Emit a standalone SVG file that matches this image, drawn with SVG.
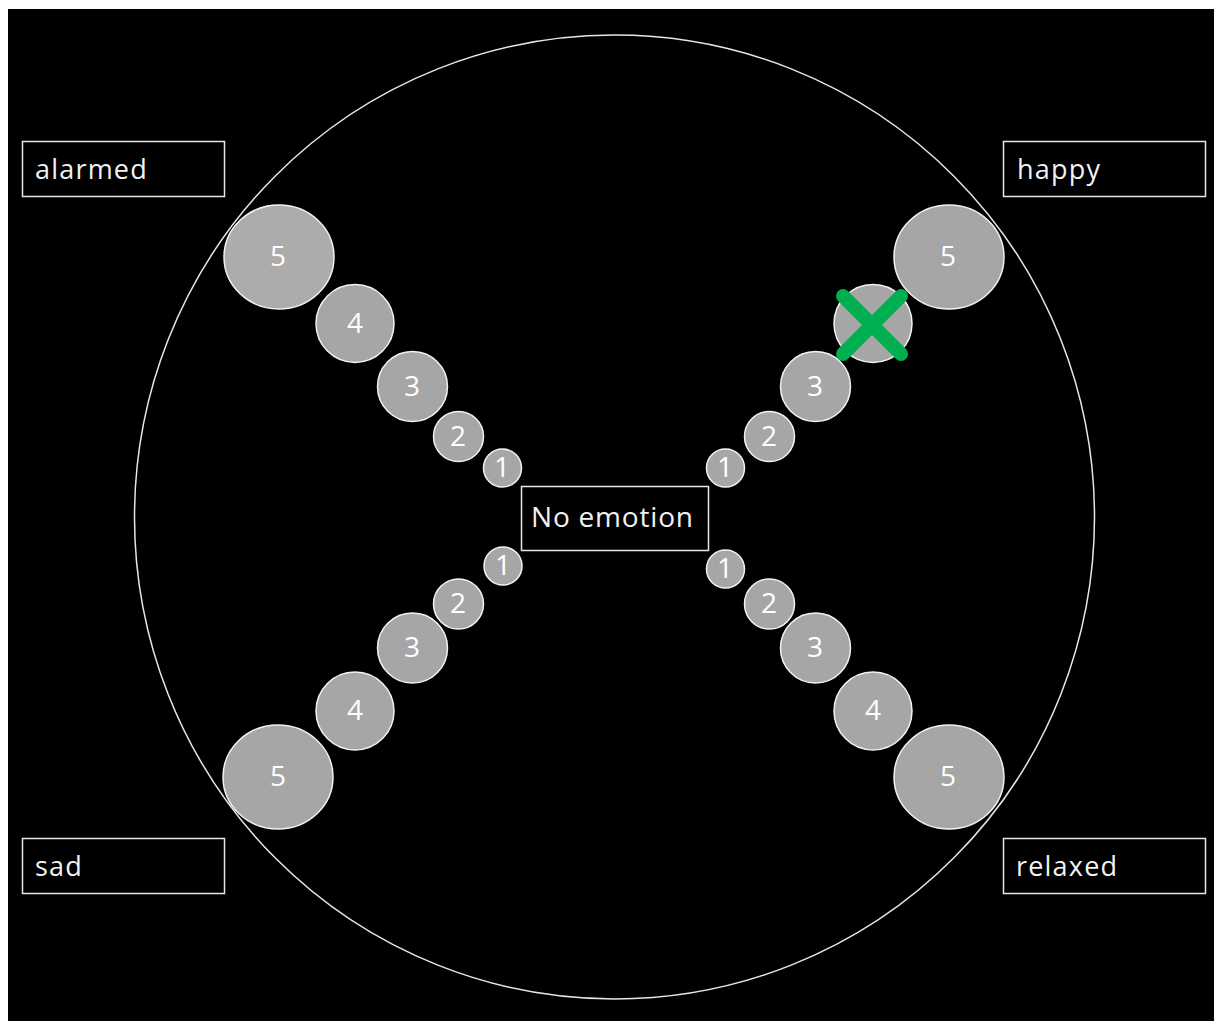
<svg xmlns="http://www.w3.org/2000/svg" width="1214" height="1021" viewBox="0 0 1214 1021">
<style>
.lbl{fill:none;stroke:#e6e6e6;stroke-width:1.5}
.lt{font-family:"Open Sans","Liberation Sans",sans-serif;font-size:27px;fill:#f2f2f2;letter-spacing:1.2px}
.dot{fill:#a6a6a6;stroke:#f2f2f2;stroke-width:1.5}
.num{font-family:"Open Sans","Liberation Sans",sans-serif;font-size:28px;fill:#ffffff;text-anchor:middle}
</style>
<rect x="0" y="0" width="1214" height="1021" fill="#ffffff"/>
<rect x="8" y="9" width="1206" height="1012" fill="#000000"/>
<g id="outer-circle"><ellipse cx="614.5" cy="517" rx="480" ry="482" fill="none" stroke="#e6e6e6" stroke-width="1.5"/></g>
<g id="connectors"></g>
<g id="label-alarmed"><rect class="lbl" x="22.5" y="141.5" width="202" height="55"/><text class="lt" x="35" y="179">alarmed</text></g>
<g id="label-happy"><rect class="lbl" x="1003.5" y="141.5" width="202" height="55"/><text class="lt" x="1017" y="179">happy</text></g>
<g id="label-sad"><rect class="lbl" x="22.5" y="838.5" width="202" height="55"/><text class="lt" x="35" y="876">sad</text></g>
<g id="label-relaxed"><rect class="lbl" x="1003.5" y="838.5" width="202" height="55"/><text class="lt" x="1016" y="876">relaxed</text></g>
<g id="center"><rect class="lbl" x="521.5" y="486.5" width="187" height="64"/><text class="lt" x="531" y="527" style="font-size:28px;letter-spacing:0.8px">No emotion</text></g>
<g id="alarmed-5"><ellipse cx="279" cy="257" rx="55" ry="52" class="dot" style="fill:#aeabab"/><text class="num" x="278" y="266">5</text></g>
<g id="alarmed-4"><circle cx="355" cy="323.5" r="39" class="dot"/><text class="num" x="355" y="333">4</text></g>
<g id="alarmed-3"><circle cx="412.5" cy="386.5" r="35" class="dot"/><text class="num" x="412" y="396">3</text></g>
<g id="alarmed-2"><circle cx="458.5" cy="436.5" r="25" class="dot"/><text class="num" x="458" y="446">2</text></g>
<g id="alarmed-1"><circle cx="502.5" cy="468" r="19" class="dot"/><text class="num" x="502" y="477">1</text></g>
<g id="happy-5"><ellipse cx="949" cy="257" rx="55" ry="52" class="dot"/><text class="num" x="948" y="266">5</text></g>
<g id="happy-4"><circle cx="873" cy="323.5" r="39" class="dot"/><path d="M843 296 L901 354 M901 296 L843 354" stroke="#00b050" stroke-width="14" stroke-linecap="round" fill="none"/></g>
<g id="happy-3"><circle cx="815.5" cy="386.5" r="35" class="dot"/><text class="num" x="815" y="396">3</text></g>
<g id="happy-2"><circle cx="769.5" cy="436.5" r="25" class="dot"/><text class="num" x="769" y="446">2</text></g>
<g id="happy-1"><circle cx="725.5" cy="468" r="19" class="dot"/><text class="num" x="725" y="477">1</text></g>
<g id="sad-1"><circle cx="503" cy="566" r="19" class="dot"/><text class="num" x="503" y="575">1</text></g>
<g id="sad-2"><circle cx="458.5" cy="604" r="25" class="dot"/><text class="num" x="458" y="613">2</text></g>
<g id="sad-3"><circle cx="412.5" cy="648" r="35" class="dot"/><text class="num" x="412" y="657">3</text></g>
<g id="sad-4"><circle cx="355" cy="711" r="39" class="dot"/><text class="num" x="355" y="720">4</text></g>
<g id="sad-5"><ellipse cx="278" cy="777" rx="55" ry="52" class="dot"/><text class="num" x="278" y="786">5</text></g>
<g id="relaxed-1"><circle cx="725.5" cy="569" r="19" class="dot"/><text class="num" x="725" y="578">1</text></g>
<g id="relaxed-2"><circle cx="769.5" cy="604" r="25" class="dot"/><text class="num" x="769" y="613">2</text></g>
<g id="relaxed-3"><circle cx="815.5" cy="648" r="35" class="dot"/><text class="num" x="815" y="657">3</text></g>
<g id="relaxed-4"><circle cx="873" cy="711" r="39" class="dot"/><text class="num" x="873" y="720">4</text></g>
<g id="relaxed-5"><ellipse cx="949" cy="777" rx="55" ry="52" class="dot"/><text class="num" x="948" y="786">5</text></g>
</svg>
